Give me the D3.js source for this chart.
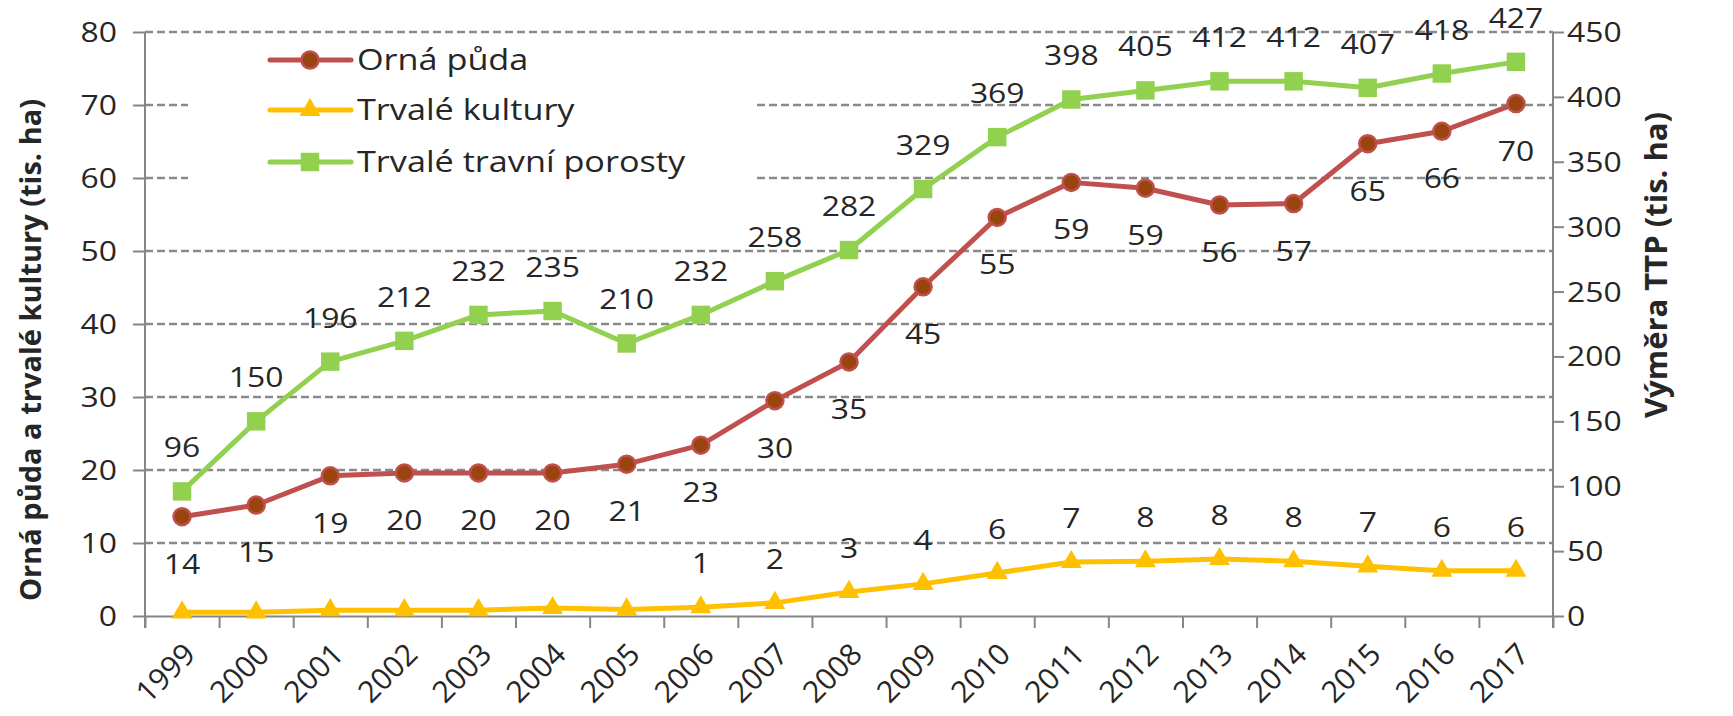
<!DOCTYPE html>
<html>
<head>
<meta charset="utf-8">
<script src="https://cdn.jsdelivr.net/npm/d3@7"></script>
<style>
  html, body { margin: 0; padding: 0; background: #fff; }
  svg { display: block; }
  text { font-family: "Open Sans", sans-serif; fill: #262626; }
</style>
</head>
<body>
<script>
// data
const years = ['1999','2000','2001','2002','2003','2004','2005','2006','2007','2008',
               '2009','2010','2011','2012','2013','2014','2015','2016','2017'];
const ornaPuda = [13.6, 15.2, 19.2, 19.6, 19.6, 19.6, 20.8, 23.4, 29.5, 34.8,
                  45.1, 54.6, 59.4, 58.6, 56.3, 56.5, 64.7, 66.4, 70.2];
const trvaleKultury = [0.5, 0.5, 0.8, 0.8, 0.8, 1.1, 0.9, 1.2, 1.8, 3.3,
                       4.4, 5.9, 7.4, 7.5, 7.8, 7.5, 6.8, 6.2, 6.2];
const travniPorosty = [96, 150, 196, 212, 232, 235, 210, 232, 258, 282,
                       329, 369, 398, 405, 412, 412, 407, 418, 427];
// labels for Trvalé kultury appear only from 2006 on
const kulturyShown = [false, false, false, false, false, false, false, true, true, true,
                      true, true, true, true, true, true, true, true, true];
const leftTicks = [0, 10, 20, 30, 40, 50, 60, 70, 80];
const rightTicks = [0, 50, 100, 150, 200, 250, 300, 350, 400, 450];
const seriesNames = ['Orná půda', 'Trvalé kultury', 'Trvalé travní porosty'];

const W = 1733, H = 716;
const SX = 1.18;           // the picture is stretched sideways, text follows that
const plotL = 145, plotR = 1553, plotT = 32, plotB = 616;
const axisCol = '#868686', gridCol = '#8a8a8a';
const red = '#C0504D', redFill = '#9A4410', yellow = '#FFC000', green = '#92D050';

const svg = d3.select('body').append('svg').attr('width', W).attr('height', H);

const x = d3.scaleBand().domain(years).range([plotL, plotR]).padding(0);
const cx = d => x(d) + x.bandwidth() / 2;
const yL = d3.scaleLinear().domain([0, 80]).range([plotB, plotT]);
const yR = d3.scaleLinear().domain([0, 450]).range([plotB, plotT]);
const xb = d3.scaleLinear().domain([0, years.length]).range([plotL, plotR]);

function putText(g, px, py, str, anchor, rot, size, weight, sx) {
  const s = sx === undefined ? SX : sx;
  return g.append('text')
    .attr('transform', `translate(${px},${py}) scale(${s},1)` + (rot ? ` rotate(${rot})` : ''))
    .attr('text-anchor', anchor)
    .style('font-size', (size || 27) + 'px')
    .style('font-weight', weight || 'normal')
    .text(str);
}

// grid lines from the left axis
svg.append('g').selectAll('line')
  .data(leftTicks.filter(v => v > 0))
  .join('line')
  .attr('x1', plotL).attr('x2', plotR)
  .attr('y1', d => yL(d)).attr('y2', d => yL(d))
  .attr('stroke', gridCol).attr('stroke-width', 2.5)
  .attr('stroke-dasharray', '8,4');

// legend background hides part of the grid
svg.append('rect').attr('x', 188).attr('y', 40).attr('width', 565).attr('height', 192).attr('fill', '#fff');

// axes
const gL = svg.append('g').attr('transform', `translate(${plotL},0)`)
  .call(d3.axisLeft(yL).tickValues(leftTicks).tickSize(12).tickSizeOuter(0));
const gR = svg.append('g').attr('transform', `translate(${plotR},0)`)
  .call(d3.axisRight(yR).tickValues(rightTicks).tickSize(11).tickSizeOuter(0));
const gX = svg.append('g').attr('transform', `translate(0,${plotB})`)
  .call(d3.axisBottom(xb).tickValues(d3.range(years.length + 1)).tickSize(12).tickSizeOuter(0).tickFormat(''));

[gL, gR, gX].forEach(g => {
  g.select('.domain').attr('stroke', axisCol).attr('stroke-width', 2);
  g.selectAll('.tick line').attr('stroke', axisCol).attr('stroke-width', 2);
});
gL.select('.domain').attr('d', `M0,${plotT}V${plotB + 12}`);
gR.select('.domain').attr('d', `M0,${plotT}V${plotB + 12}`);
gL.selectAll('.tick text').attr('x', null).attr('dy', null)
  .attr('transform', `translate(-28,9.5) scale(${SX},1)`)
  .style('font-size', '27px').style('font-family', '"Open Sans", sans-serif').attr('fill', '#262626');
gR.selectAll('.tick text').attr('x', null).attr('dy', null)
  .attr('transform', `translate(14,9.5) scale(${SX},1)`)
  .style('font-size', '27px').style('font-family', '"Open Sans", sans-serif').attr('fill', '#262626');

// year labels
const gYears = svg.append('g');
years.forEach(yr => putText(gYears, cx(yr) + 15, 656, yr, 'end', -45, 30, 'normal', 1));

// axis titles
putText(svg, 41, 350, 'Orná půda a trvalé kultury (tis. ha)', 'middle', -90, 29, 'bold', 1);
putText(svg, 1667, 265, 'Výměra TTP (tis. ha)', 'middle', -90, 31, 'bold', 1);

// lines
const lineL = d3.line().x((d, i) => cx(years[i])).y(d => yL(d));
const lineR = d3.line().x((d, i) => cx(years[i])).y(d => yR(d));

svg.append('path').datum(trvaleKultury).attr('d', lineL)
  .attr('fill', 'none').attr('stroke', yellow).attr('stroke-width', 5).attr('stroke-linejoin', 'round');
svg.append('path').datum(ornaPuda).attr('d', lineL)
  .attr('fill', 'none').attr('stroke', red).attr('stroke-width', 5).attr('stroke-linejoin', 'round');
svg.append('path').datum(travniPorosty).attr('d', lineR)
  .attr('fill', 'none').attr('stroke', green).attr('stroke-width', 5).attr('stroke-linejoin', 'round');

const triangle = d3.symbol().type(d3.symbolTriangle).size(190);
const square = d3.symbol().type(d3.symbolSquare).size(340);

svg.append('g').selectAll('path').data(trvaleKultury).join('path')
  .attr('d', triangle)
  .attr('transform', (d, i) => `translate(${cx(years[i])},${yL(d)})`)
  .attr('fill', yellow);
svg.append('g').selectAll('circle').data(ornaPuda).join('circle')
  .attr('cx', (d, i) => cx(years[i])).attr('cy', d => yL(d)).attr('r', 8.5)
  .attr('fill', redFill).attr('stroke', red).attr('stroke-width', 2.5);
svg.append('g').selectAll('path').data(travniPorosty).join('path')
  .attr('d', square)
  .attr('transform', (d, i) => `translate(${cx(years[i])},${yR(d)})`)
  .attr('fill', green);

// data labels
const gLab = svg.append('g');
ornaPuda.forEach((v, i) => putText(gLab, cx(years[i]), yL(v) + 57, Math.round(v), 'middle'));
trvaleKultury.forEach((v, i) => {
  if (kulturyShown[i]) putText(gLab, cx(years[i]), yL(v) - 34, Math.round(v), 'middle');
});
travniPorosty.forEach((v, i) => putText(gLab, cx(years[i]), yR(v) - 34, v, 'middle'));

// legend
const legendRows = [60, 110, 162];
const legend = svg.append('g');
seriesNames.forEach((name, i) => {
  const col = [red, yellow, green][i];
  const ly = legendRows[i];
  legend.append('line').attr('x1', 270).attr('x2', 351).attr('y1', ly).attr('y2', ly)
    .attr('stroke', col).attr('stroke-width', 5).attr('stroke-linecap', 'round');
  if (i === 0) {
    legend.append('circle').attr('cx', 310).attr('cy', ly).attr('r', 8.5)
      .attr('fill', redFill).attr('stroke', red).attr('stroke-width', 2.5);
  } else {
    legend.append('path').attr('d', i === 1 ? triangle : square)
      .attr('transform', `translate(310,${ly})`).attr('fill', col);
  }
  putText(legend, 357, ly + 10, name, 'start', 0, 29);
});
</script>
</body>
</html>
